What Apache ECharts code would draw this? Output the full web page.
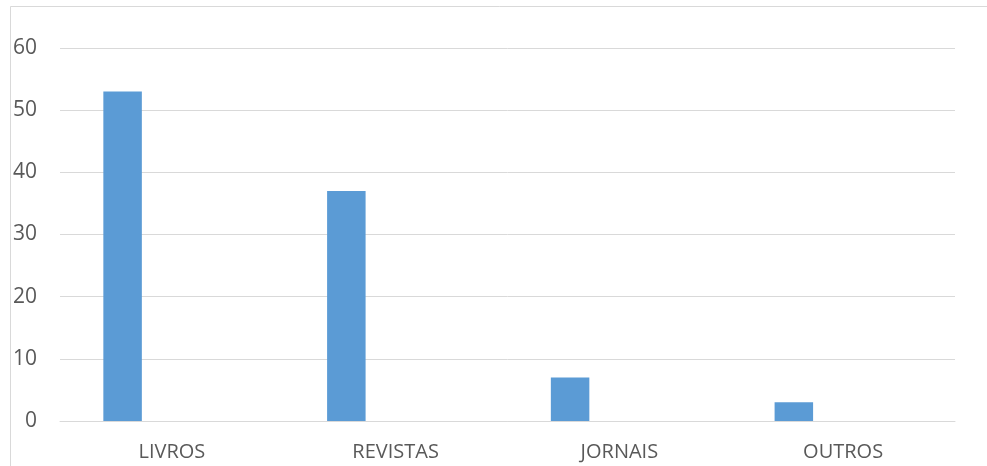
<!DOCTYPE html>
<html>
<head>
<meta charset="utf-8">
<script src="https://cdn.jsdelivr.net/npm/echarts@6/dist/echarts.min.js"></script>
<style>
  html, body { margin: 0; padding: 0; background: #ffffff; }
  #chart { width: 987px; height: 466px; }
</style>
</head>
<body>
<div id="chart"></div>
<script>
// Categories and counts
const categories = ['LIVROS', 'REVISTAS', 'JORNAIS', 'OUTROS'];
const counts = [53, 37, 7, 3];
// Second series slot kept empty, as in the original workbook layout
const emptySlot = [];
const yTicks = { min: 0, max: 60, interval: 10 };

const chart = echarts.init(document.getElementById('chart'), null, { renderer: 'canvas' });

const font = '"Open Sans", "Noto Sans", sans-serif';

chart.setOption({
  backgroundColor: '#ffffff',
  animation: false,
  graphic: [{
    type: 'rect',
    silent: true,
    shape: { x: 10.5, y: 6.5, width: 1200, height: 1200 },
    style: { fill: 'none', stroke: '#d9d9d9', lineWidth: 1 }
  }],
  grid: { left: 60, right: 32, top: 48, bottom: 45, containLabel: false },
  xAxis: {
    type: 'category',
    data: categories,
    axisLine: { show: true, lineStyle: { color: '#d9d9d9', width: 1 } },
    axisTick: { show: false },
    axisLabel: { color: '#595959', fontFamily: font, fontSize: 20, margin: 21 },
    splitLine: { show: false }
  },
  yAxis: {
    type: 'value',
    min: yTicks.min,
    max: yTicks.max,
    interval: yTicks.interval,
    axisLine: { show: false },
    axisTick: { show: false },
    axisLabel: { color: '#595959', fontFamily: font, fontSize: 21, margin: 23 },
    splitLine: { lineStyle: { color: '#d9d9d9', width: 1 } }
  },
  series: [
    {
      type: 'bar',
      data: counts,
      barWidth: 38.5,
      barGap: '156%',
      itemStyle: { color: '#5b9bd5' }
    },
    {
      type: 'bar',
      data: emptySlot,
      barWidth: 38.5,
      itemStyle: { color: '#ed7d31' }
    }
  ]
});
</script>
</body>
</html>
